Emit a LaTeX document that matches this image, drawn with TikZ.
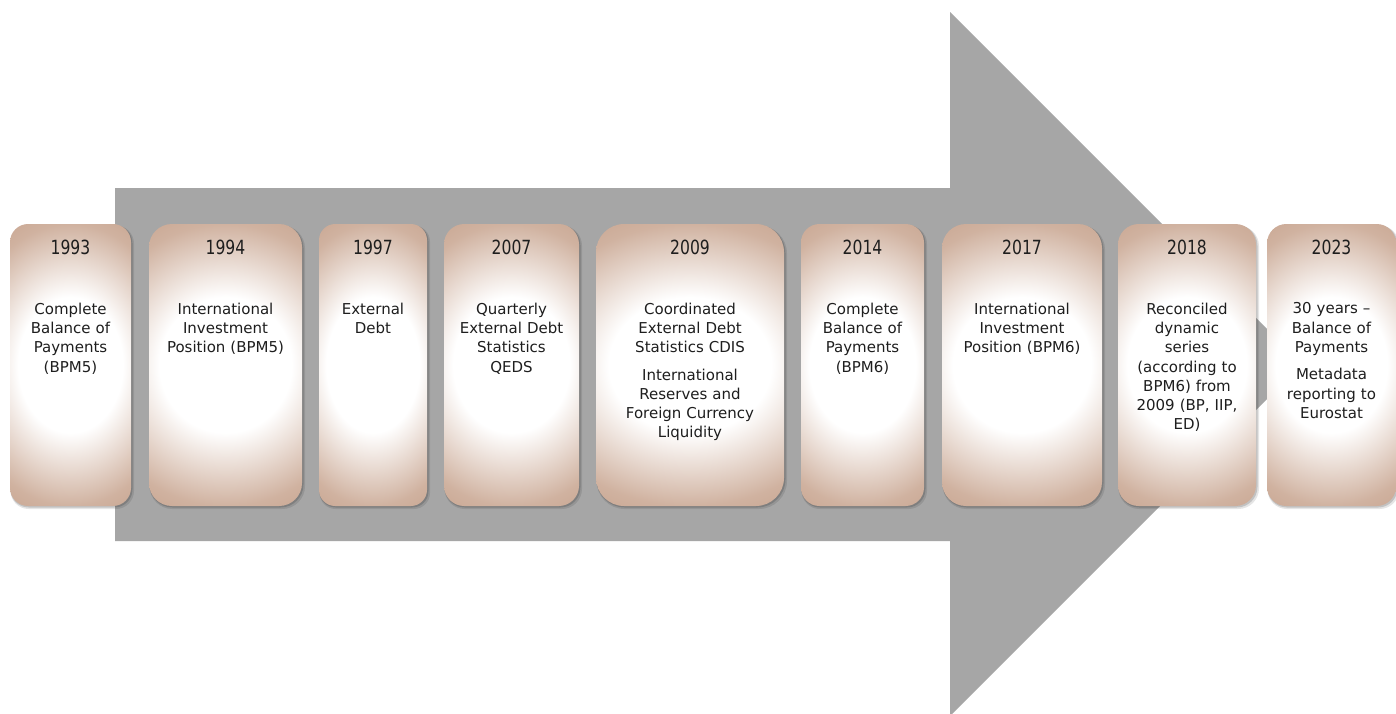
\documentclass[tikz,border=0pt]{standalone}
\usepackage{fontspec}
\setmainfont{DejaVu Sans}
\definecolor{arrowgray}{RGB}{166,166,166}
\definecolor{bxA}{RGB}{208,178,160}
\definecolor{bxB}{RGB}{190,150,126}
\definecolor{txt}{RGB}{30,30,30}
\pgfdeclareradialshading{boxshade}{\pgfpoint{0bp}{0bp}}{color(0bp)=(white); color(12bp)=(white); color(25bp)=(bxA); color(36bp)=(bxB); color(50bp)=(bxB)}
\tikzset{
  yearstyle/.style={anchor=base, inner sep=0pt, text=txt, font=\fontsize{19.5}{21}\selectfont},
  bodystyle/.style={anchor=north, inner sep=0pt, text=txt, align=center, font=\fontsize{15}{19.3}\selectfont},
}
\newcommand{\tlbox}[5]{%
  \pgfmathsetmacro\cx{(#2+#3)/2}%
  \pgfmathsetmacro\ww{#3-#2}%
  \pgfmathsetmacro\rr{0.15*\ww}%
  \pgfmathsetmacro\tw{\ww-6}%
  \fill[black, opacity=0.10, rounded corners=\rr pt] (#2+0.5,225.5) rectangle (#3+3,509);
  \fill[black, opacity=0.15, rounded corners=\rr pt] (#2+0.5,225) rectangle (#3+1.5,507.5);
  \begin{scope}
    \clip[rounded corners=\rr pt] (#2,224) rectangle (#3,506);
    \shade[shading=boxshade] (\cx-0.9*\ww,224) rectangle (\cx+0.9*\ww,506);
  \end{scope}
  \node[yearstyle] (#1y) at (\cx,254) {\scalebox{0.8}[1]{#4}};
  \node[bodystyle, text width=\tw pt] (#1b) at (\cx,302.5) {#5};
}
\begin{document}
\begin{tikzpicture}[x=1pt,y=-1pt]
\useasboundingbox (0,0) rectangle (1396,713);
\fill[white] (0,0) rectangle (1396,713);
\clip (0,0) rectangle (1396,713);
% big arrow
\fill[arrowgray] (115,188) -- (950,188) -- (950,12) -- (1302,364) -- (950,716) -- (950,541) -- (115,541) -- cycle;
% boxes
\tlbox{a}{10}{131}{1993}{Complete\\Balance of\\Payments\\(BPM5)}
\tlbox{b}{149}{302}{1994}{International\\Investment\\Position (BPM5)}
\tlbox{c}{319}{427}{1997}{External\\Debt}
\tlbox{d}{444}{579}{2007}{Quarterly\\External Debt\\Statistics\\QEDS}
\tlbox{e}{596}{784}{2009}{Coordinated\\External Debt\\Statistics CDIS\\[8pt]International\\Reserves and\\Foreign Currency\\Liquidity}
\tlbox{f}{801}{924}{2014}{Complete\\Balance of\\Payments\\(BPM6)}
\tlbox{g}{942}{1102}{2017}{International\\Investment\\Position (BPM6)}
\tlbox{h}{1118}{1256}{2018}{Reconciled\\dynamic\\series\\(according to\\BPM6) from\\2009 (BP, IIP,\\ED)}
\tlbox{i}{1267}{1396}{2023}{30 years –\\Balance of\\Payments\\[8pt]Metadata\\reporting to\\Eurostat}
\end{tikzpicture}
\end{document}
